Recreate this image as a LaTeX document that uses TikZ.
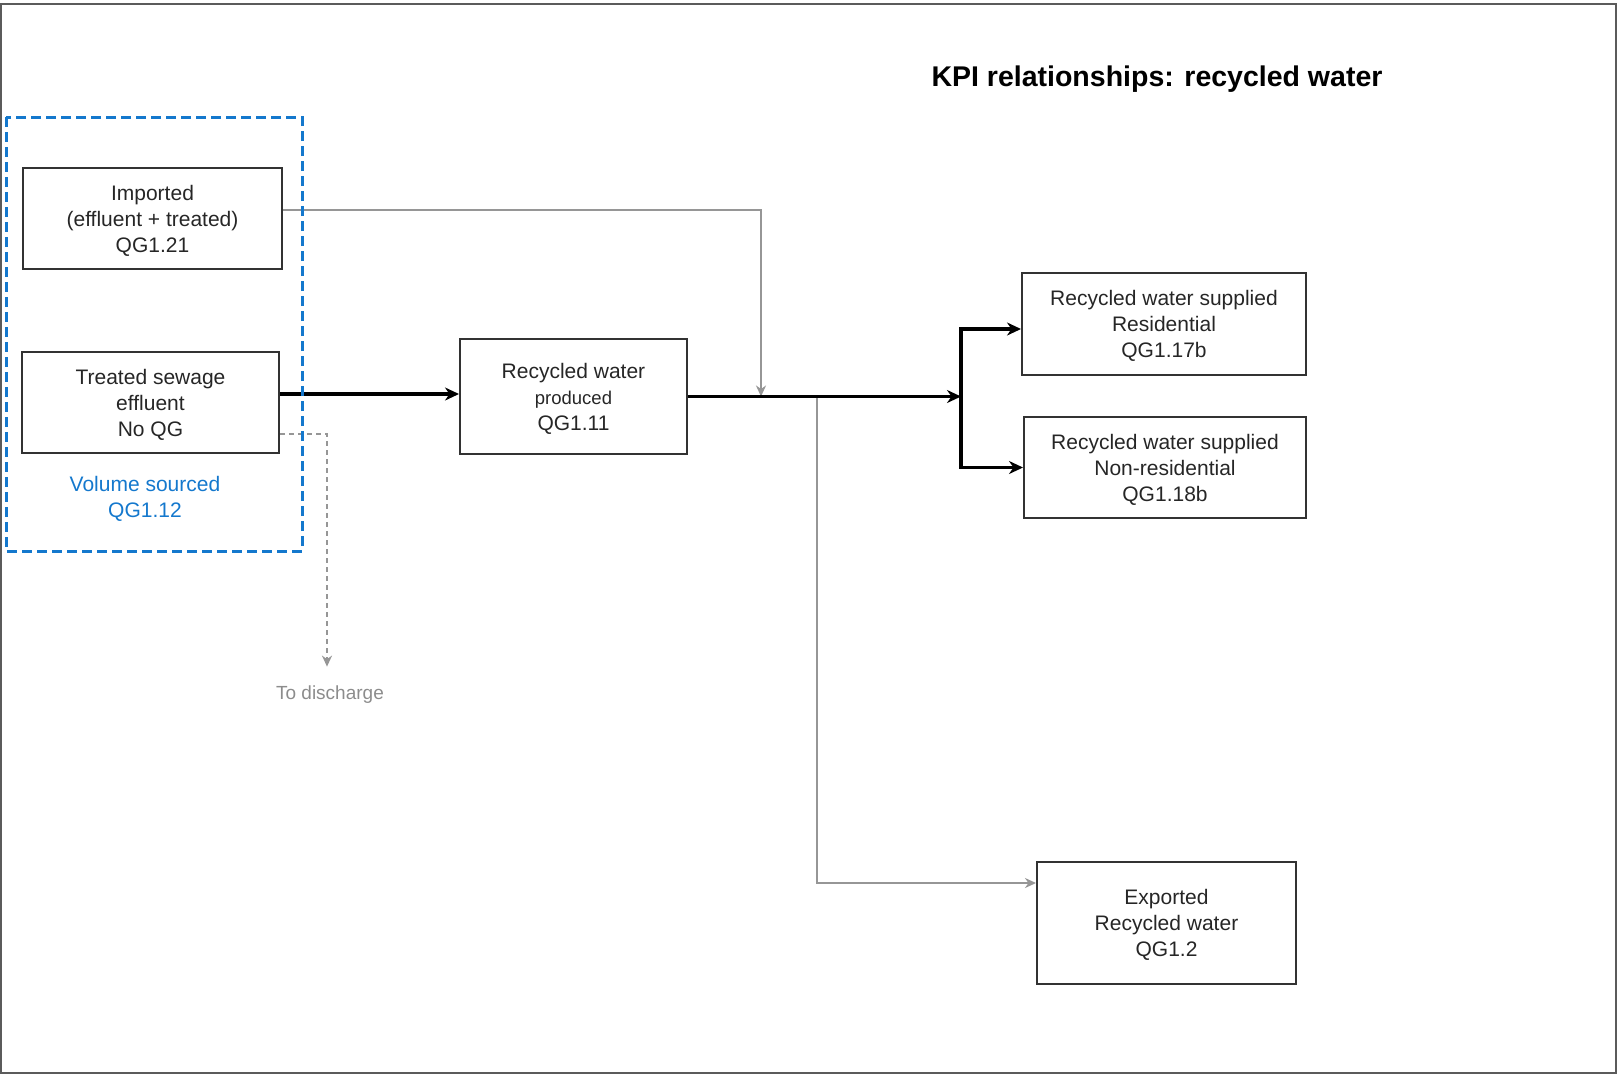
\documentclass[tikz,border=0pt]{standalone}
\usepackage{fontspec}
\setmainfont{Liberation Sans}
\usetikzlibrary{arrows.meta,calc}
\definecolor{boxline}{RGB}{50,50,50}
\definecolor{grayln}{RGB}{150,150,150}
\definecolor{graytxt}{RGB}{140,140,140}
\definecolor{blueln}{RGB}{20,120,205}
\tikzset{
  kbox/.style={draw=boxline,line width=2pt,inner sep=0pt,align=center,
    font=\fontsize{21}{26}\selectfont,text=black!85,text depth=-2pt},
  blackarrow/.style={line width=3.2pt,black,-{Stealth[length=14pt,width=13pt,inset=4.5pt]}},
  grayarrow/.style={line width=1.8pt,grayln,-{Stealth[length=11pt,width=10pt,inset=3.5pt]}},
  dasharrow/.style={line width=1.8pt,grayln,dash pattern=on 5pt off 4pt,-{Stealth[length=11pt,width=10pt,inset=3.5pt]}},
}
\begin{document}
\begin{tikzpicture}[x=1pt,y=-1pt]
\useasboundingbox (0,0) rectangle (1617,1077);
\draw[boxline!80,line width=2.5pt] (1,4) rectangle (1616,1073);

\node[font=\bfseries\fontsize{28.5}{32}\selectfont] (title) at (1157,79) {KPI relationships: recycled water};

\node[kbox,minimum width=259pt,minimum height=101pt] (imp) at (152.5,218.5) {Imported\\(effluent + treated)\\QG1.21};
\node[kbox,minimum width=257pt,minimum height=101pt] (tse) at (150.5,402.5) {Treated sewage\\effluent\\No QG};
\node[kbox,minimum width=227pt,minimum height=115pt] (prod) at (573.5,396.5) {Recycled water\\{\fontsize{18.5}{26}\selectfont produced}\\QG1.11};
\node[kbox,minimum width=284pt,minimum height=102pt] (res) at (1164,324) {Recycled water supplied\\Residential\\QG1.17b};
\node[kbox,minimum width=282pt,minimum height=101pt] (nres) at (1165,467.5) {Recycled water supplied\\Non-residential\\QG1.18b};
\node[kbox,minimum width=259pt,minimum height=122pt] (exp) at (1166.5,923) {Exported\\Recycled water\\QG1.2};

\node[align=center,text=blueln,font=\fontsize{21}{26}\selectfont] (vol) at (145,498.5) {Volume sourced\\QG1.12};
\node[text=graytxt,font=\fontsize{19}{24}\selectfont] (dis) at (330,695) {To discharge};

\coordinate (j1) at (761,396.5);
\coordinate (j2) at (961,396.5);
\coordinate (j3) at (817,396.5);

\draw[grayarrow] ([yshift=8.5pt]imp.east) -| (j1);
\draw[grayarrow] (j3) |- ([yshift=40pt]exp.west);
\draw[dasharrow] ([yshift=-31.5pt]tse.east) -| ([xshift=-3pt,yshift=16pt]dis.north);

\draw[blackarrow] ([yshift=8.5pt]tse.east) -- ([yshift=2.5pt]prod.west);
\draw[blackarrow] (prod.east) -- (j2);
\draw[blackarrow] (j2) |- ([yshift=-5pt]res.west);
\draw[blackarrow] (j2) |- (nres.west);

\draw[blueln,line width=3pt,dash pattern=on 10pt off 5pt] (6,117) rectangle (302,551);
\end{tikzpicture}
\end{document}
